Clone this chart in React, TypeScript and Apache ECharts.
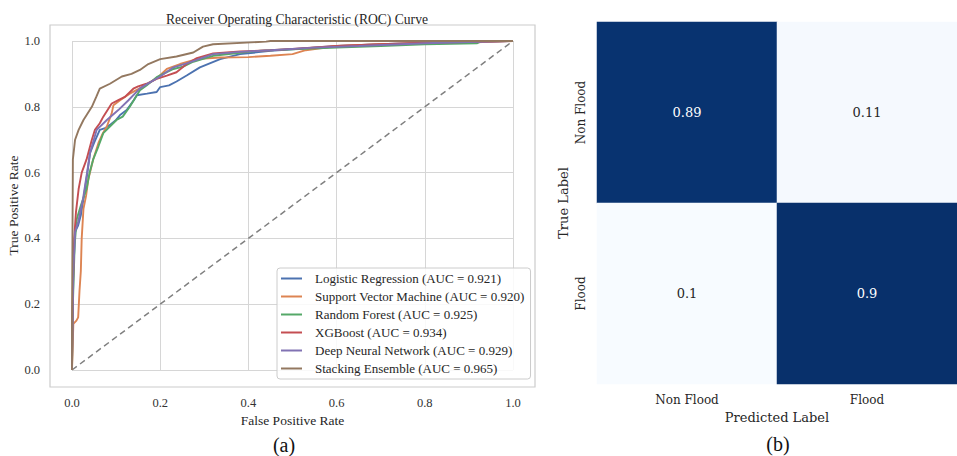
import React, { useEffect, useRef } from "react";
import * as echarts from "echarts";

const modelNames = [
  "Logistic Regression (AUC = 0.921)",
  "Support Vector Machine (AUC = 0.920)",
  "Random Forest (AUC = 0.925)",
  "XGBoost (AUC = 0.934)",
  "Deep Neural Network (AUC = 0.929)",
  "Stacking Ensemble (AUC = 0.965)",
];
const modelColors = ["#4c72b0", "#dd8452", "#55a868", "#c44e52", "#8172b3", "#937860"];

const rocLogistic = [
  [0, 0], [0, 0.02], [0.003, 0.3], [0.007, 0.42], [0.014, 0.44], [0.02, 0.47], [0.026, 0.52],
  [0.035, 0.6], [0.041, 0.66], [0.05, 0.69], [0.063, 0.73], [0.075, 0.735], [0.086, 0.745],
  [0.1, 0.76], [0.109, 0.775], [0.124, 0.79], [0.14, 0.82], [0.147, 0.835], [0.17, 0.84],
  [0.192, 0.845], [0.2, 0.86], [0.22, 0.865], [0.237, 0.877], [0.26, 0.895], [0.29, 0.92],
  [0.336, 0.945], [0.381, 0.96], [0.45, 0.97], [0.5, 0.975], [0.6, 0.985], [0.7, 0.99],
  [0.8, 0.995], [0.9, 0.997], [1, 1],
];
const rocSvm = [
  [0, 0], [0.003, 0.14], [0.01, 0.15], [0.014, 0.16], [0.017, 0.24], [0.02, 0.3], [0.022, 0.4],
  [0.026, 0.49], [0.032, 0.53], [0.037, 0.58], [0.048, 0.64], [0.06, 0.69], [0.07, 0.72],
  [0.079, 0.74], [0.09, 0.78], [0.094, 0.805], [0.109, 0.82], [0.131, 0.84], [0.162, 0.862],
  [0.192, 0.886], [0.215, 0.915], [0.245, 0.93], [0.283, 0.945], [0.336, 0.95], [0.4, 0.951],
  [0.45, 0.955], [0.5, 0.96], [0.53, 0.972], [0.6, 0.985], [0.7, 0.99], [0.8, 0.993],
  [0.9, 0.995], [1, 1],
];
const rocForest = [
  [0, 0], [0.002, 0.2], [0.006, 0.38], [0.011, 0.46], [0.02, 0.5], [0.033, 0.55], [0.04, 0.6],
  [0.048, 0.64], [0.06, 0.68], [0.071, 0.72], [0.086, 0.74], [0.101, 0.76], [0.115, 0.77],
  [0.131, 0.8], [0.154, 0.85], [0.169, 0.865], [0.192, 0.89], [0.23, 0.915], [0.252, 0.922],
  [0.275, 0.937], [0.32, 0.955], [0.42, 0.97], [0.5, 0.975], [0.6, 0.98], [0.7, 0.985],
  [0.8, 0.99], [0.918, 0.993], [0.93, 1], [1, 1],
];
const rocXgb = [
  [0, 0], [0.002, 0.25], [0.005, 0.4], [0.009, 0.48], [0.015, 0.55], [0.022, 0.6], [0.033, 0.64],
  [0.045, 0.7], [0.052, 0.73], [0.063, 0.75], [0.071, 0.77], [0.09, 0.81], [0.105, 0.82],
  [0.12, 0.83], [0.139, 0.855], [0.15, 0.862], [0.169, 0.87], [0.192, 0.885], [0.215, 0.895],
  [0.237, 0.905], [0.26, 0.93], [0.283, 0.948], [0.32, 0.962], [0.381, 0.968], [0.45, 0.972],
  [0.5, 0.976], [0.6, 0.985], [0.7, 0.99], [0.8, 0.995], [0.9, 0.997], [1, 1],
];
const rocDnn = [
  [0, 0], [0, 0.03], [0.003, 0.3], [0.007, 0.42], [0.014, 0.45], [0.025, 0.52], [0.041, 0.66],
  [0.056, 0.73], [0.079, 0.76], [0.105, 0.79], [0.128, 0.82], [0.154, 0.856], [0.173, 0.871],
  [0.2, 0.892], [0.23, 0.92], [0.26, 0.932], [0.32, 0.96], [0.381, 0.967], [0.45, 0.972],
  [0.55, 0.98], [0.65, 0.985], [0.8, 0.993], [0.9, 0.997], [1, 1],
];
const rocStacking = [
  [0, 0], [0, 0.14], [0.002, 0.64], [0.007, 0.7], [0.015, 0.73], [0.026, 0.76], [0.045, 0.8],
  [0.055, 0.83], [0.063, 0.855], [0.086, 0.87], [0.113, 0.892], [0.135, 0.9], [0.154, 0.912],
  [0.173, 0.93], [0.2, 0.945], [0.237, 0.953], [0.275, 0.965], [0.297, 0.983], [0.32, 0.99],
  [0.44, 0.998], [0.45, 1], [1, 1],
];
const rocCurves = [rocLogistic, rocSvm, rocForest, rocXgb, rocDnn, rocStacking];
const chanceLine = [[0, 0], [1, 1]];

const cmCategories = ["Non Flood", "Flood"];
const cmValues = [
  [0, 0, 0.89],
  [1, 0, 0.11],
  [0, 1, 0.1],
  [1, 1, 0.9],
];
const bluesPalette = ["#f7fbff", "#deebf7", "#c6dbef", "#9ecae1", "#6baed6", "#4292c6", "#2171b5", "#08519c", "#08306b"];

const SERIF = "Liberation Serif";
const DJV = "DejaVu Serif";

export default function App() {
  const ref = useRef<HTMLDivElement>(null);
  useEffect(() => {
    if (!ref.current) return;
    const chart = echarts.init(ref.current, undefined, { renderer: "svg" });
    const lineSeries = rocCurves.map((d, i) => ({
      type: "line",
      name: modelNames[i],
      xAxisIndex: 0,
      yAxisIndex: 0,
      data: d,
      symbol: "none",
      showSymbol: false,
      clip: false,
      lineStyle: { color: modelColors[i], width: 1.9 },
      itemStyle: { color: modelColors[i] },
      z: 3,
    }));
    const option: any = {
      animation: false,
      backgroundColor: "#ffffff",
      title: {
        text: "Receiver Operating Characteristic (ROC) Curve",
        left: 292,
        top: 7,
        textAlign: "center",
        textStyle: { fontFamily: SERIF, fontSize: 13.6, fontWeight: "normal", color: "#262626" },
      },
      legend: {
        left: 277,
        top: 268,
        orient: "vertical",
        itemWidth: 21,
        itemHeight: 2,
        itemGap: 5,
        padding: [4, 6, 4, 4],
        backgroundColor: "rgba(255,255,255,0.85)",
        borderColor: "#cccccc",
        borderWidth: 1,
        borderRadius: 3,
        data: modelNames.map((n) => ({ name: n, icon: "rect" })),
        textStyle: {
          fontFamily: SERIF,
          fontSize: 13,
          lineHeight: 13,
          color: "#262626",
          padding: [0, 0, 0, 8],
        },
      },
      visualMap: {
        show: false,
        min: 0.1,
        max: 0.9,
        seriesIndex: 7,
        inRange: { color: bluesPalette },
      },
      grid: [
        { left: 72, top: 41, width: 441, height: 329 },
        { left: 597, top: 22, width: 364, height: 362 },
      ],
      xAxis: [
        {
          type: "value",
          gridIndex: 0,
          min: 0,
          max: 1,
          interval: 0.2,
          axisLine: { show: false },
          axisTick: { show: false },
          splitLine: { show: true, lineStyle: { color: "#d6d6d6", width: 1 } },
          axisLabel: {
            margin: 26,
            fontFamily: SERIF,
            fontSize: 12.5,
            color: "#333333",
            formatter: (v: number) => v.toFixed(1),
          },
          name: "False Positive Rate",
          nameLocation: "middle",
          nameGap: 40,
          nameTextStyle: { fontFamily: SERIF, fontSize: 13.5, color: "#262626" },
        },
        {
          type: "category",
          gridIndex: 1,
          data: cmCategories,
          position: "bottom",
          axisLine: { show: false },
          axisTick: { show: false },
          splitLine: { show: false },
          axisLabel: { margin: 10, fontFamily: DJV, fontSize: 12, color: "#262626" },
          name: "Predicted Label",
          nameLocation: "middle",
          nameGap: 26,
          nameTextStyle: { fontFamily: DJV, fontSize: 13, color: "#262626" },
        },
      ],
      yAxis: [
        {
          type: "value",
          gridIndex: 0,
          min: 0,
          max: 1,
          interval: 0.2,
          axisLine: { show: false },
          axisTick: { show: false },
          splitLine: { show: true, lineStyle: { color: "#d6d6d6", width: 1 } },
          axisLabel: {
            margin: 32,
            fontFamily: SERIF,
            fontSize: 12.5,
            color: "#333333",
            formatter: (v: number) => v.toFixed(1),
          },
          name: "True Positive Rate",
          nameLocation: "middle",
          nameGap: 52,
          nameRotate: 90,
          nameTextStyle: { fontFamily: SERIF, fontSize: 13.5, color: "#262626" },
        },
        {
          type: "category",
          gridIndex: 1,
          data: cmCategories,
          inverse: true,
          axisLine: { show: false },
          axisTick: { show: false },
          splitLine: { show: false },
          axisLabel: { margin: 10, rotate: 90, fontFamily: DJV, fontSize: 12, color: "#262626" },
          name: "True Label",
          nameLocation: "middle",
          nameGap: 27,
          nameRotate: 90,
          nameTextStyle: { fontFamily: DJV, fontSize: 13, color: "#262626" },
        },
      ],
      graphic: [
        {
          type: "rect",
          shape: { x: 50, y: 25, width: 485, height: 362 },
          style: { fill: "none", stroke: "#cccccc", lineWidth: 1.2 },
          z: 1,
        },
        {
          type: "text",
          x: 284,
          y: 445,
          style: {
            text: "(a)",
            font: "20px " + SERIF,
            fill: "#111111",
            textAlign: "center",
            textVerticalAlign: "middle",
          },
        },
        {
          type: "text",
          x: 778,
          y: 444,
          style: {
            text: "(b)",
            font: "20px " + SERIF,
            fill: "#111111",
            textAlign: "center",
            textVerticalAlign: "middle",
          },
        },
      ],
      series: [
        ...lineSeries,
        {
          type: "line",
          name: "chance",
          xAxisIndex: 0,
          yAxisIndex: 0,
          data: chanceLine,
          symbol: "none",
          showSymbol: false,
          lineStyle: { color: "#808080", width: 1.5, type: [6, 4] },
          z: 2,
        },
        {
          type: "heatmap",
          xAxisIndex: 1,
          yAxisIndex: 1,
          data: cmValues.map((c) => ({
            value: c,
            label: {
              color: c[2] > 0.5 ? "#ffffff" : "#262626",
              fontFamily: DJV,
              fontSize: 13,
            },
          })),
          label: {
            show: true,
            fontFamily: DJV,
            fontSize: 13,
            formatter: (p: any) => String(p.value[2]),
          },
          itemStyle: { borderWidth: 0 },
        },
      ],
    };
    chart.setOption(option);
    return () => chart.dispose();
  }, []);
  return (
    <div
      ref={ref}
      style={{ position: "fixed", left: 0, top: 0, width: 957, height: 456, background: "#fff" }}
    />
  );
}
